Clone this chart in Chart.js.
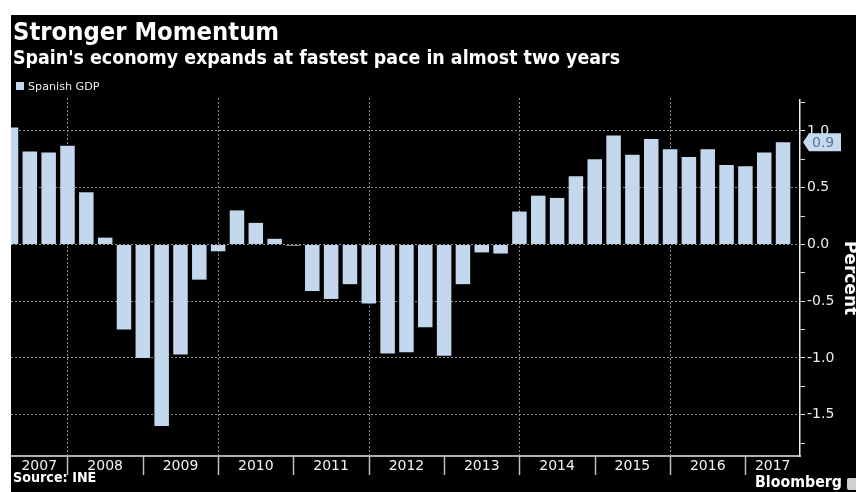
<!DOCTYPE html>
<html>
<head>
<meta charset="utf-8">
<script src="https://cdn.jsdelivr.net/npm/chart.js@4.4.0/dist/chart.umd.min.js"></script>
<style>
body{margin:0;width:856px;height:492px;background:#fff;overflow:hidden;position:relative;font-family:'DejaVu Sans',sans-serif}
#panel{position:absolute;left:11px;top:15px;width:845px;height:477px;background:#000}
.txt{position:absolute;color:#fff;white-space:nowrap;line-height:1;transform-origin:0 0}
#legbox{position:absolute;left:16px;top:82px;width:8px;height:8px;background:#c4d8ed}
#logo{position:absolute;left:847px;top:478px;width:14px;height:12px;background:#d0d0d0;border-radius:2px}
</style>
</head>
<body>
<div id="panel"><canvas id="mycanvas"></canvas></div>
<div class="txt" data-w="266" style="left:13px;top:20px;font-weight:bold;font-size:24px">Stronger Momentum</div>
<div class="txt" data-w="607" style="left:13px;top:48px;font-weight:bold;font-size:19px">Spain's economy expands at fastest pace in almost two years</div>
<div id="legbox"></div>
<div class="txt" data-w="72" style="left:28px;top:81px;font-size:11px;color:#eeeeee">Spanish GDP</div>
<div class="txt" data-w="83" style="left:13px;top:470px;font-weight:bold;font-size:14px">Source: INE</div>
<div class="txt" data-w="87" style="left:755px;top:474px;font-weight:bold;font-size:16px">Bloomberg</div>
<div id="logo"></div>
<script>
// quarterly GDP growth, 2007 Q1 .. 2017 Q2
var years = ['2007','2008','2009','2010','2011','2012','2013','2014','2015','2016','2017'];
var gdp = [
	1.03, 0.82, 0.81, 0.87,
	0.46, 0.06, -0.75, -1.00,
	-1.60, -0.97, -0.31, -0.06,
	0.30, 0.19, 0.05, -0.01,
	-0.41, -0.48, -0.35, -0.52,
	-0.96, -0.95, -0.73, -0.98,
	-0.35, -0.07, -0.08, 0.29,
	0.43, 0.41, 0.60, 0.75,
	0.96, 0.79, 0.93, 0.84,
	0.77, 0.84, 0.70, 0.69,
	0.81, 0.90
];
var yTickValues = [-1.75,-1.5,-1.25,-1,-0.75,-0.5,-0.25,0,0.25,0.5,0.75,1,1.25];
var lastLabel = '0.9';

var xMin = 0, xMax = 41.9;
var barColor = '#c4d8ed';

// quarter index of each year's last quarter (year boundary)
function yearEnd(i){ return 4*i + 3; }
var yearMid = years.map(function(y, i){
	var a = Math.max(xMin, yearEnd(i) - 4), b = Math.min(xMax, yearEnd(i));
	return (a + b) / 2;
});

function isMajor(v){ return Math.abs(v*2 - Math.round(v*2)) < 1e-6; }

var decor = {
	id: 'decor',
	beforeDatasetsDraw: function(chart){
		var ctx = chart.ctx, x = chart.scales.x, a = chart.chartArea;
		ctx.save();
		ctx.strokeStyle = '#8c8c8c';
		ctx.lineWidth = 1;
		ctx.setLineDash([2,2]);
		for (var i = 0; i < years.length - 1; i += 2) {
			var px = Math.round(x.getPixelForValue(yearEnd(i))) + 0.5;
			ctx.beginPath(); ctx.moveTo(px, a.top - 2); ctx.lineTo(px, a.bottom); ctx.stroke();
		}
		ctx.restore();
	},
	afterDraw: function(chart){
		var ctx = chart.ctx, x = chart.scales.x, y = chart.scales.y, a = chart.chartArea;
		ctx.save();
		ctx.strokeStyle = '#bdbdbd';
		ctx.lineWidth = 1.5;
		for (var i = 0; i < years.length - 1; i++) {
			var px = Math.round(x.getPixelForValue(yearEnd(i))) + 0.5;
			ctx.beginPath(); ctx.moveTo(px, a.bottom); ctx.lineTo(px, a.bottom + 19); ctx.stroke();
		}
		// last value tag
		var ty = y.getPixelForValue(gdp[gdp.length - 1]);
		var tx = a.right + 3;
		ctx.fillStyle = '#c6daef';
		ctx.beginPath();
		ctx.moveTo(tx, ty);
		ctx.lineTo(tx + 6, ty - 9);
		ctx.lineTo(tx + 38, ty - 9);
		ctx.lineTo(tx + 38, ty + 9);
		ctx.lineTo(tx + 6, ty + 9);
		ctx.closePath();
		ctx.fill();
		ctx.fillStyle = '#5d7390';
		ctx.font = '14px "DejaVu Sans"';
		ctx.textBaseline = 'middle';
		ctx.fillText(lastLabel, tx + 9, ty + 1);
		ctx.restore();
	}
};

var chartdata = {
	datasets: [{
		label: 'Spanish GDP',
		data: gdp.map(function(v, i){ return {x: i, y: v}; }),
		backgroundColor: barColor,
		borderWidth: 0,
		barPercentage: 0.77,
		categoryPercentage: 1
	}]
};

new Chart(document.getElementById('mycanvas'), {
	type: 'bar',
	data: chartdata,
	plugins: [decor],
	options: {
		responsive: true,
		maintainAspectRatio: false,
		animation: false,
		layout: { padding: { top: 85, left: 0, right: 0, bottom: 0 } },
		plugins: { legend: { display: false }, tooltip: { enabled: false } },
		scales: {
			x: {
				type: 'linear', min: xMin, max: xMax, offset: false,
				afterBuildTicks: function(s){ s.ticks = yearMid.map(function(v){ return {value: v}; }); },
				afterFit: function(s){ s.height = 36; },
				ticks: {
					color: '#f2f2f2', font: { family: 'DejaVu Sans', size: 14 },
					padding: 2, maxRotation: 0, autoSkip: false,
					callback: function(v, i){ return years[i]; }
				},
				grid: { offset: false, drawOnChartArea: false, drawTicks: false },
				border: { display: true, color: '#b0b0b0', width: 2 }
			},
			y: {
				position: 'right', min: -1.864, max: 1.273,
				afterBuildTicks: function(s){ s.ticks = yTickValues.map(function(v){ return {value: v}; }); },
				afterFit: function(s){ s.width = 56; },
				ticks: {
					color: '#ececec', font: { family: 'DejaVu Sans', size: 14 }, padding: 2,
					callback: function(v){ return isMajor(v) ? v.toFixed(1) : ''; }
				},
				grid: {
					color: function(c){ return c.tick && isMajor(c.tick.value) ? '#8c8c8c' : 'rgba(0,0,0,0)'; },
					lineWidth: 1, tickLength: 5, tickColor: '#dddddd', tickWidth: 1
				},
				border: { display: true, color: '#eeeeee', width: 1.5, dash: [2,2] },
				title: {
					display: true, text: 'Percent', color: '#ffffff',
					font: { family: 'DejaVu Sans', size: 17, weight: 'bold', lineHeight: 0.8 }, padding: 0
				}
			}
		}
	}
});

document.querySelectorAll('.txt[data-w]').forEach(function(el){
	var w = +el.getAttribute('data-w');
	el.style.transform = 'scaleX(' + (w / el.offsetWidth) + ')';
});
</script>
</body>
</html>
